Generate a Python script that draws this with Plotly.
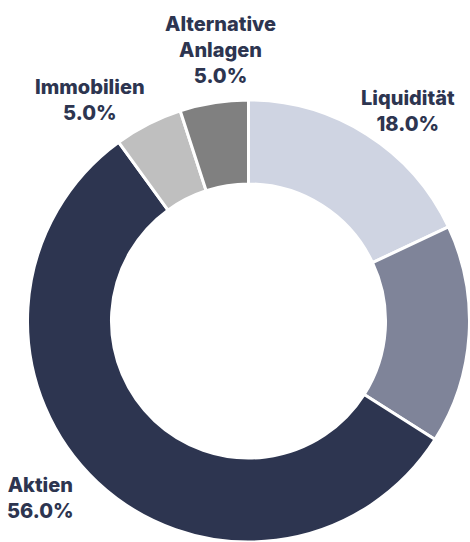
import math
import plotly.graph_objects as go

categories = ["Liquidität", "Anleihen", "Aktien", "Immobilien", "Alternative Anlagen"]
display_labels = ["Liquidität", "", "Aktien", "Immobilien", "Alternative<br>Anlagen"]
values = [18.0, 16.0, 56.0, 5.0, 5.0]
colors = ["#cfd4e2", "#7f8499", "#2d3550", "#bfbfbf", "#808080"]

# layout / style settings (pixels)
W, H = 470, 542
ML, MT, MR, MB = 27, 100, 0, 0
LABEL_R = 272
label_nudge = [(14, 20), (0, 0), (-22, -21), (-35, 21), (15, -2)]
TEXT_COLOR = "#2d3550"

fig = go.Figure(go.Pie(
    labels=categories,
    values=values,
    textinfo="none",
    hole=0.62,
    sort=False,
    direction="clockwise",
    rotation=0,
    marker=dict(colors=colors, line=dict(color="white", width=3)),
    showlegend=False,
))

# plot area geometry (pie fills the domain)
pw, ph = W - ML - MR, H - MT - MB
cx, cy = ML + pw / 2, MT + ph / 2

total = sum(values)
cum = 0.0
for lab, v, (nx, ny) in zip(display_labels, values, label_nudge):
    mid = (cum + v / 2) / total * 2 * math.pi
    cum += v
    if not lab:
        continue
    px = cx + LABEL_R * math.sin(mid) + nx
    py = cy - LABEL_R * math.cos(mid) + ny
    fig.add_annotation(
        x=(px - ML) / pw, y=1 - (py - MT) / ph,
        xref="paper", yref="paper",
        text=f"{lab}<br>{v / total * 100:.1f}%",
        showarrow=False, xanchor="center", yanchor="middle", align="center",
        font=dict(family="Inter", size=20, color=TEXT_COLOR, weight=800),
    )

fig.update_layout(
    width=W, height=H,
    margin=dict(l=ML, r=MR, t=MT, b=MB),
    paper_bgcolor="white",
    plot_bgcolor="white",
)

fig.write_html("out.html", config={"displayModeBar": False},
               post_script="document.body.style.margin='0';")
